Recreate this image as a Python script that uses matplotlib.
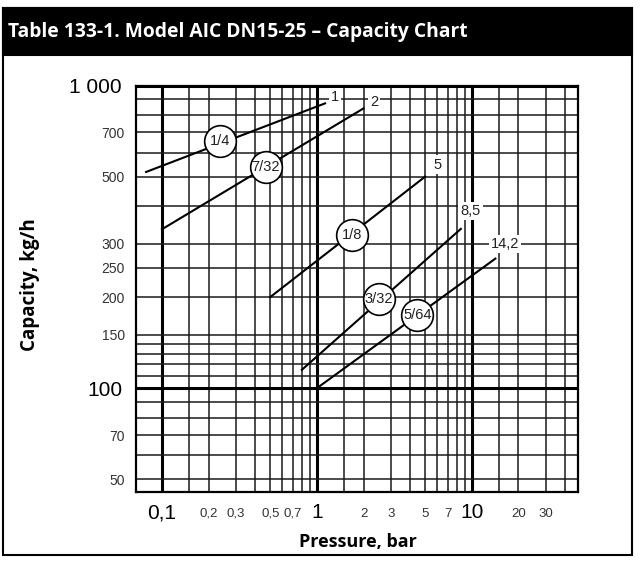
import matplotlib
matplotlib.use("Agg")
import matplotlib.pyplot as plt
from matplotlib.patches import Rectangle

plt.rcParams["font.family"] = ["Liberation Sans", "DejaVu Sans"]

# curves: pressure (bar) vs capacity (kg/h), straight on log-log paper
line_names = ["1", "2", "5", "8,5", "14,2"]
line_x = [[0.079, 1.13], [0.1, 2.0], [0.5, 5.0], [0.8, 8.5], [1.0, 14.2]]
line_y = [[518, 873], [335, 840], [200, 500], [115, 336], [100, 268]]
# end labels (max pressure)
end_lbl_x = [1.31, 2.34, 6.03, 9.77, 16.4]
end_lbl_y = [916, 884, 548, 385, 299]
# orifice size circles
orif_names = ["1/4", "7/32", "1/8", "3/32", "5/64"]
orif_x = [0.2355, 0.469, 1.68, 2.50, 4.46]
orif_y = [655, 536, 321, 197, 174]

# log paper grid
x_major = [0.1, 1, 10]
x_major_lbl = ["0,1", "1", "10"]
x_minor = [0.15, 0.2, 0.3, 0.4, 0.5, 0.6, 0.7, 0.8, 0.9,
           1.5, 2, 3, 4, 5, 6, 7, 8, 9, 15, 20, 30, 40]
x_minor_lbl = ["", "0,2", "0,3", "", "0,5", "", "0,7", "", "",
               "", "2", "3", "", "5", "", "7", "", "", "", "20", "30", ""]
y_major = [100, 1000]
y_major_lbl = ["100", "1 000"]
y_minor = [50, 60, 70, 80, 90, 110, 120, 130, 140, 150, 200, 250,
           300, 400, 500, 600, 700, 800, 900]
y_minor_lbl = ["50", "", "70", "", "", "", "", "", "", "150", "200", "250",
               "300", "", "500", "", "700", "", ""]

fig = plt.figure(figsize=(6.4, 5.65), dpi=100)
ax = fig.add_axes([136 / 640, 1 - 492.3 / 565, (578.3 - 136) / 640, (492.3 - 85.5) / 565])
ax.set_xscale("log")
ax.set_yscale("log")
ax.set_xlim(0.068, 48.7)
ax.set_ylim(45.3, 1000)

ax.set_xticks(x_major, labels=x_major_lbl)
ax.set_xticks(x_minor, labels=x_minor_lbl, minor=True)
ax.set_yticks(y_major, labels=y_major_lbl)
ax.set_yticks(y_minor, labels=y_minor_lbl, minor=True)
ax.tick_params(which="both", length=0)
ax.tick_params(axis="x", which="major", labelsize=15, pad=8)
ax.tick_params(axis="x", which="minor", labelsize=9.5, pad=11)
ax.tick_params(axis="y", which="major", labelsize=15, pad=10)
ax.tick_params(axis="y", which="minor", labelsize=10, pad=8)
for t in ax.get_xticklabels(which="minor") + ax.get_yticklabels(which="minor"):
    t.set_color("#333333")

ax.grid(which="major", color="black", lw=2.2)
ax.grid(which="minor", color="#1a1a1a", lw=1.1)
ax.set_axisbelow(True)
for s in ax.spines.values():
    s.set_linewidth(1.6)

for xs, ys in zip(line_x, line_y):
    ax.plot(xs, ys, color="black", lw=1.5, zorder=3)

for name, x, y in zip(line_names, end_lbl_x, end_lbl_y):
    ax.text(x, y, name, ha="center", va="center", fontsize=10.5, color="#222222", zorder=4,
            bbox=dict(boxstyle="square,pad=0.15", fc="white", ec="none"))

ax.scatter(orif_x, orif_y, s=520, facecolor="white", edgecolor="black", lw=1.2, zorder=5)
for name, x, y in zip(orif_names, orif_x, orif_y):
    ax.text(x, y, name, ha="center", va="center", fontsize=10.5, color="#222222", zorder=6)

# frame and title bar
fig.patches.append(Rectangle((3 / 640, 1 - 555 / 565), 629 / 640, 547 / 565,
                             transform=fig.transFigure, fill=False, ec="black", lw=1.5))
fig.patches.append(Rectangle((3 / 640, 1 - 55 / 565), 629 / 640, 47 / 565,
                             transform=fig.transFigure, fc="black", ec="black", lw=1.5))
fig.text(8 / 640, 1 - 32 / 565, "Table 133-1. Model AIC DN15-25 \u2013 Capacity Chart",
         color="white", fontsize=13.9, fontweight="bold", va="center", ha="left",
         family=["Open Sans", "DejaVu Sans"])

fig.text(30 / 640, 1 - 285 / 565, "Capacity, kg/h", rotation=90, fontsize=13.5,
         fontweight="bold", ha="center", va="center", family=["Open Sans", "DejaVu Sans"])
fig.text(358 / 640, 1 - 542 / 565, "Pressure, bar", fontsize=13,
         fontweight="bold", ha="center", va="center", family=["Open Sans", "DejaVu Sans"])

fig.savefig("out.png", dpi=100)
